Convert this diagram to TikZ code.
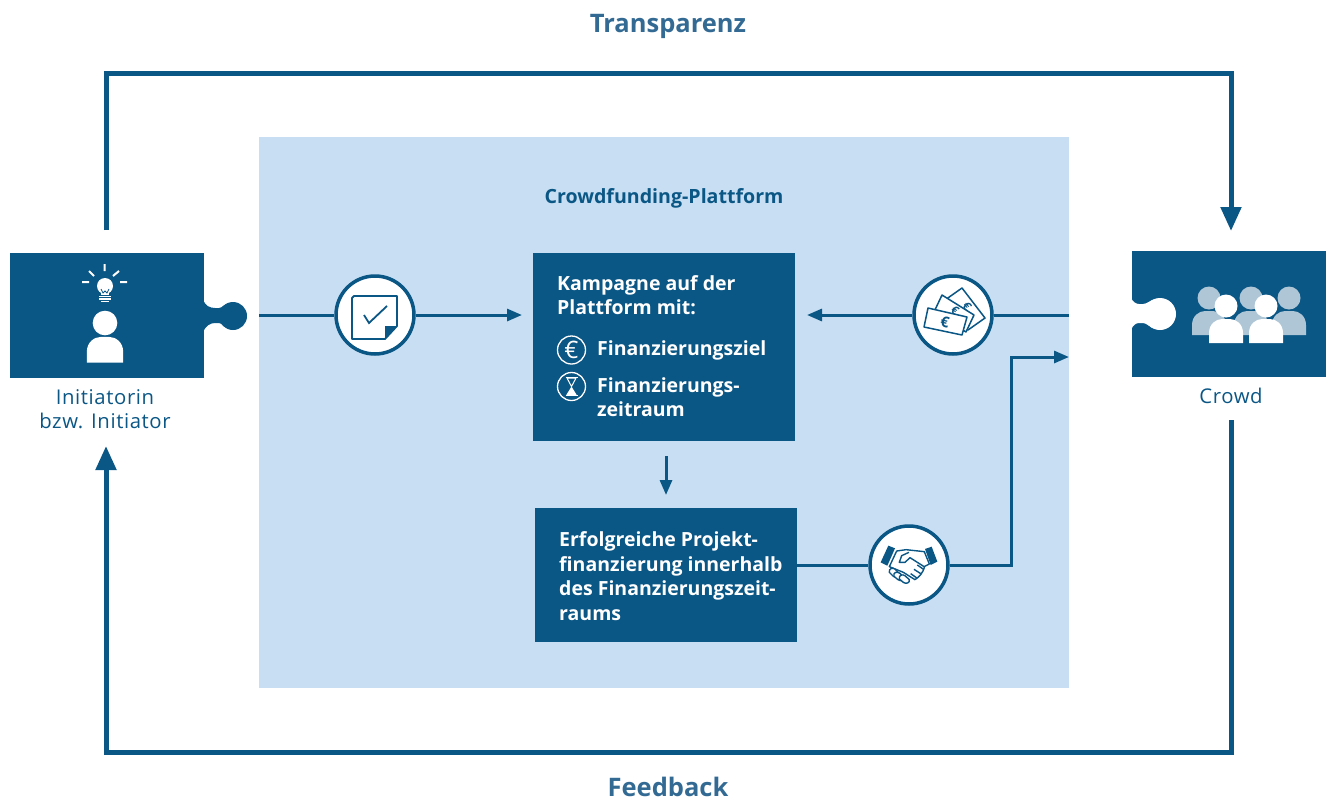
\documentclass[tikz,border=0pt]{standalone}
\usepackage{fontspec}
\setmainfont{Open Sans}
\usetikzlibrary{arrows.meta}
\definecolor{dunkel}{HTML}{0A5685}
\definecolor{hell}{HTML}{C8DFF3}
\definecolor{titel}{HTML}{336A94}
\definecolor{grau}{HTML}{AEC6D6}
\tikzset{person/.pic={
  \fill[pic actions] (0,0) circle[radius=11.5];
  \fill[pic actions] (-17,37) -- (-17,27) .. controls (-17,18) and (-10,13) .. (-4,13) -- (4,13) .. controls (10,13) and (17,18) .. (17,27) -- (17,37) -- cycle;
}}
\begin{document}
\begin{tikzpicture}[x=1pt,y=-1pt]
\tikzstyle{box}=[fill=dunkel,inner sep=0pt,anchor=north west]
\tikzstyle{rund}=[circle,draw=dunkel,fill=white,line width=3.5pt,minimum size=78pt,inner sep=0pt]
\tikzstyle{titeltext}=[text=titel,font=\fontsize{25.5}{30}\selectfont\bfseries]
\tikzstyle{beschrift}=[text=dunkel,align=center,font=\fontsize{20.3}{24}\selectfont\addfontfeatures{LetterSpace=3}]
\tikzstyle{weiss}=[text=white,anchor=north west,align=left,inner sep=0pt,font=\fontsize{19.5}{24.5}\selectfont\bfseries]
\tikzstyle{aussen}=[draw=dunkel,line width=5pt,-{Triangle[width=20pt,length=24pt]}]
\tikzstyle{innen}=[draw=dunkel,line width=3pt,-{Triangle[width=12pt,length=15pt]}]
\tikzstyle{schein}=[draw=dunkel,line width=1.5pt,fill=white,line join=round]
\tikzstyle{finger}=[draw=dunkel,line width=1.4pt,fill=white,line join=round]
\useasboundingbox (0,0) rectangle (1331,801);

\node(plat)[fill=hell,anchor=north west,minimum width=810pt,minimum height=551pt,inner sep=0pt] at (259,137) {};
\node(plattitel)[text=dunkel,font=\fontsize{19.6}{24}\selectfont\bfseries] at (664,198) {Crowdfunding-Plattform};

\node(ini)[box,minimum width=194pt,minimum height=125pt] at (10,253) {};
\node(crowd)[box,minimum width=194pt,minimum height=126pt] at (1132,251) {};
\node(ininame)[beschrift] at (105,409) {Initiatorin\\bzw. Initiator};
\node(crowdname)[beschrift] at (1231,396) {Crowd};
\node(transp)[titeltext] at (668,26) {Transparenz};
\node(feedb)[titeltext] at (668,787) {Feedback};

\node(kamp)[box,minimum width=262pt,minimum height=188pt] at (533,253) {};
\node(kamptext)[weiss] at (557,275) {Kampagne auf der\\Plattform mit:};
\node(ziel)[weiss] at (597,340) {Finanzierungsziel};
\node(zeit)[weiss] at (597,377) {Finanzierungs-\\zeitraum};
\node(euro)[circle,draw=white,line width=1.3pt,minimum size=28pt,inner sep=0pt,text=white,font=\fontsize{24}{24}\selectfont] at (571.5,350) {€};
\node(uhr)[circle,draw=white,line width=1.3pt,minimum size=28pt,inner sep=0pt] at (571.5,386.5) {};
\draw[white,line width=1.2pt] (565.5,377.5) -- (577.5,377.5) (565.5,395.5) -- (577.5,395.5);
\draw[white,line width=1pt,line join=round] (567,378) -- (576,378) -- (571.5,386.5) -- cycle;
\fill[white] (566,395.5) -- (577,395.5) -- (571.5,386.5) -- cycle;

\node(erf)[box,minimum width=262pt,minimum height=134pt] at (535,508) {};
\node(erftext)[weiss] at (559,531.5) {Erfolgreiche Projekt-\\finanzierung innerhalb\\des Finanzierungszeit-\\raums};

\node(check)[rund] at (375,315) {};
\node(geld)[rund] at (953,315) {};
\node(hand)[rund] at (909,565) {};

\coordinate(ps1) at (259,315);
\coordinate(ka1) at (522,315);
\coordinate(ps2) at (1069,315);
\coordinate(ka2) at (807,315);
\coordinate(ps3) at (1069,357);
\coordinate(kn1) at (1011,357);
\coordinate(kn2) at (1011,565);
\coordinate(ka3) at (666,456);
\coordinate(er3) at (666,495);
\coordinate(erf1) at (797,565);

\draw[dunkel,line width=3pt] (ps1) -- (check);
\draw[innen] (check) -- (ka1);
\draw[dunkel,line width=3pt] (ps2) -- (geld);
\draw[innen] (geld) -- (ka2);
\draw[dunkel,line width=3pt] (erf1) -- (hand);
\draw[innen] (hand) -- (kn2) -- (kn1) -- (ps3);
\draw[innen] (ka3) -- (er3);

\coordinate(o1) at (106,230);
\coordinate(o2) at (106,73);
\coordinate(o3) at (1231,73);
\coordinate(o4) at (1231,231);
\coordinate(u1) at (1231,420);
\coordinate(u2) at (1231,752);
\coordinate(u3) at (106,752);
\coordinate(u4) at (106,446);
\draw[aussen] (o1) -- (o2) -- (o3) -- (o4);
\draw[aussen] (u1) -- (u2) -- (u3) -- (u4);

% Puzzle
\fill[dunkel] (203,299) .. controls (205,306) and (210,308) .. (215,308) -- (219,308) .. controls (222,308) and (224,304) .. (229,303) -- (229,329) .. controls (224,328) and (222,323) .. (219,323) -- (215,323) .. controls (210,323) and (205,326) .. (203,333) -- cycle;
\fill[dunkel] (233,316) circle[radius=14];
\fill[white] (1131,298) .. controls (1133,302) and (1136,304) .. (1139,304) -- (1143,304) .. controls (1147,304) and (1150,300) .. (1156,299) -- (1156,329) .. controls (1150,328) and (1147,323) .. (1143,323) -- (1139,323) .. controls (1136,323) and (1133,325) .. (1131,330) -- cycle;
\fill[white] (1160,314) circle[radius=16];

% Initiatorin
\pic[fill=white,scale=1.07] at (105,323) {person};
\draw[white,line width=2pt] (104.5,264) -- (104.5,271) (89,271) -- (94,276) (119,271) -- (113,276) (82,282) -- (89,282) (120,282) -- (127,282);
\fill[white] (105,286) circle[radius=8];
\fill[white] (101,290) rectangle (109,295);
\draw[white,line width=1.2pt] (99,296.5) -- (111,296.5) (99,299) -- (111,299) (101,301.5) -- (109,301.5);
\draw[dunkel,line width=.8pt] (101,289) -- (103,293) -- (105,291) -- (107,293) -- (109,289);

% Crowd
\pic[fill=grau] at (1209,298) {person};
\pic[fill=grau] at (1251,298) {person};
\pic[fill=grau] at (1289,298) {person};
\pic[fill=white] at (1226,306) {person};
\pic[fill=white] at (1266,306) {person};

% Notiz
\draw[dunkel,line width=1.8pt,line join=round] (354,296) -- (397,296) -- (397,326) -- (385,339) -- (352,339) -- (352,298) -- cycle;
\fill[dunkel] (397,326) -- (385,339) -- (385,326) -- cycle;
\draw[dunkel,line width=1.8pt] (364,315) -- (369,323) -- (387,306);

% Geldscheine
\draw[schein] (962,288) -- (985,318) -- (968,330) -- (945,300) -- cycle;
\node(euro3)[text=dunkel,rotate=-50,inner sep=0pt,font=\fontsize{12}{12}\selectfont\bfseries] at (967,306) {€};
\draw[schein] (942,295) -- (974,315) -- (966,332) -- (934,312) -- cycle;
\node(euro2)[text=dunkel,rotate=-32,inner sep=0pt,font=\fontsize{12}{12}\selectfont\bfseries] at (955,311) {€};
\draw[schein] (928,308) -- (967,317) -- (962,335) -- (924,327) -- cycle;
\node(euro1)[text=dunkel,rotate=-12,inner sep=0pt,font=\fontsize{15}{15}\selectfont\bfseries] at (945,322) {€};

% Haendedruck
\begin{scope}[shift={(860,515)},x=.3333pt,y=-.3333pt]
\fill[dunkel] (85,92) -- (105,100) -- (82,152) -- (62,142) -- cycle;
\fill[dunkel] (215,95) -- (195,102) -- (212,150) -- (232,140) -- cycle;
\draw[finger] (110,108) -- (138,104) -- (193,110) -- (208,147) -- (194,154) .. controls (190,172) and (178,186) .. (165,194) -- (130,172) -- (88,155) -- cycle;
\draw[finger] (147,112) -- (125,122) -- (118,142) -- (135,142) -- (150,128) -- (194,156);
\draw[finger] (172,150) -- (192,164) (162,163) -- (184,177) (152,176) -- (172,190);
\draw[finger] (88,172) .. controls (86,160) and (98,156) .. (106,163) -- (114,172) .. controls (120,182) and (108,190) .. (100,184) -- cycle;
\draw[finger] (102,184) .. controls (98,172) and (112,168) .. (120,175) -- (130,186) .. controls (134,196) and (122,200) .. (114,194) -- cycle;
\draw[finger] (118,192) .. controls (116,180) and (128,176) .. (136,183) -- (148,194) .. controls (150,204) and (138,208) .. (130,202) -- cycle;
\end{scope}

\end{tikzpicture}
\end{document}
